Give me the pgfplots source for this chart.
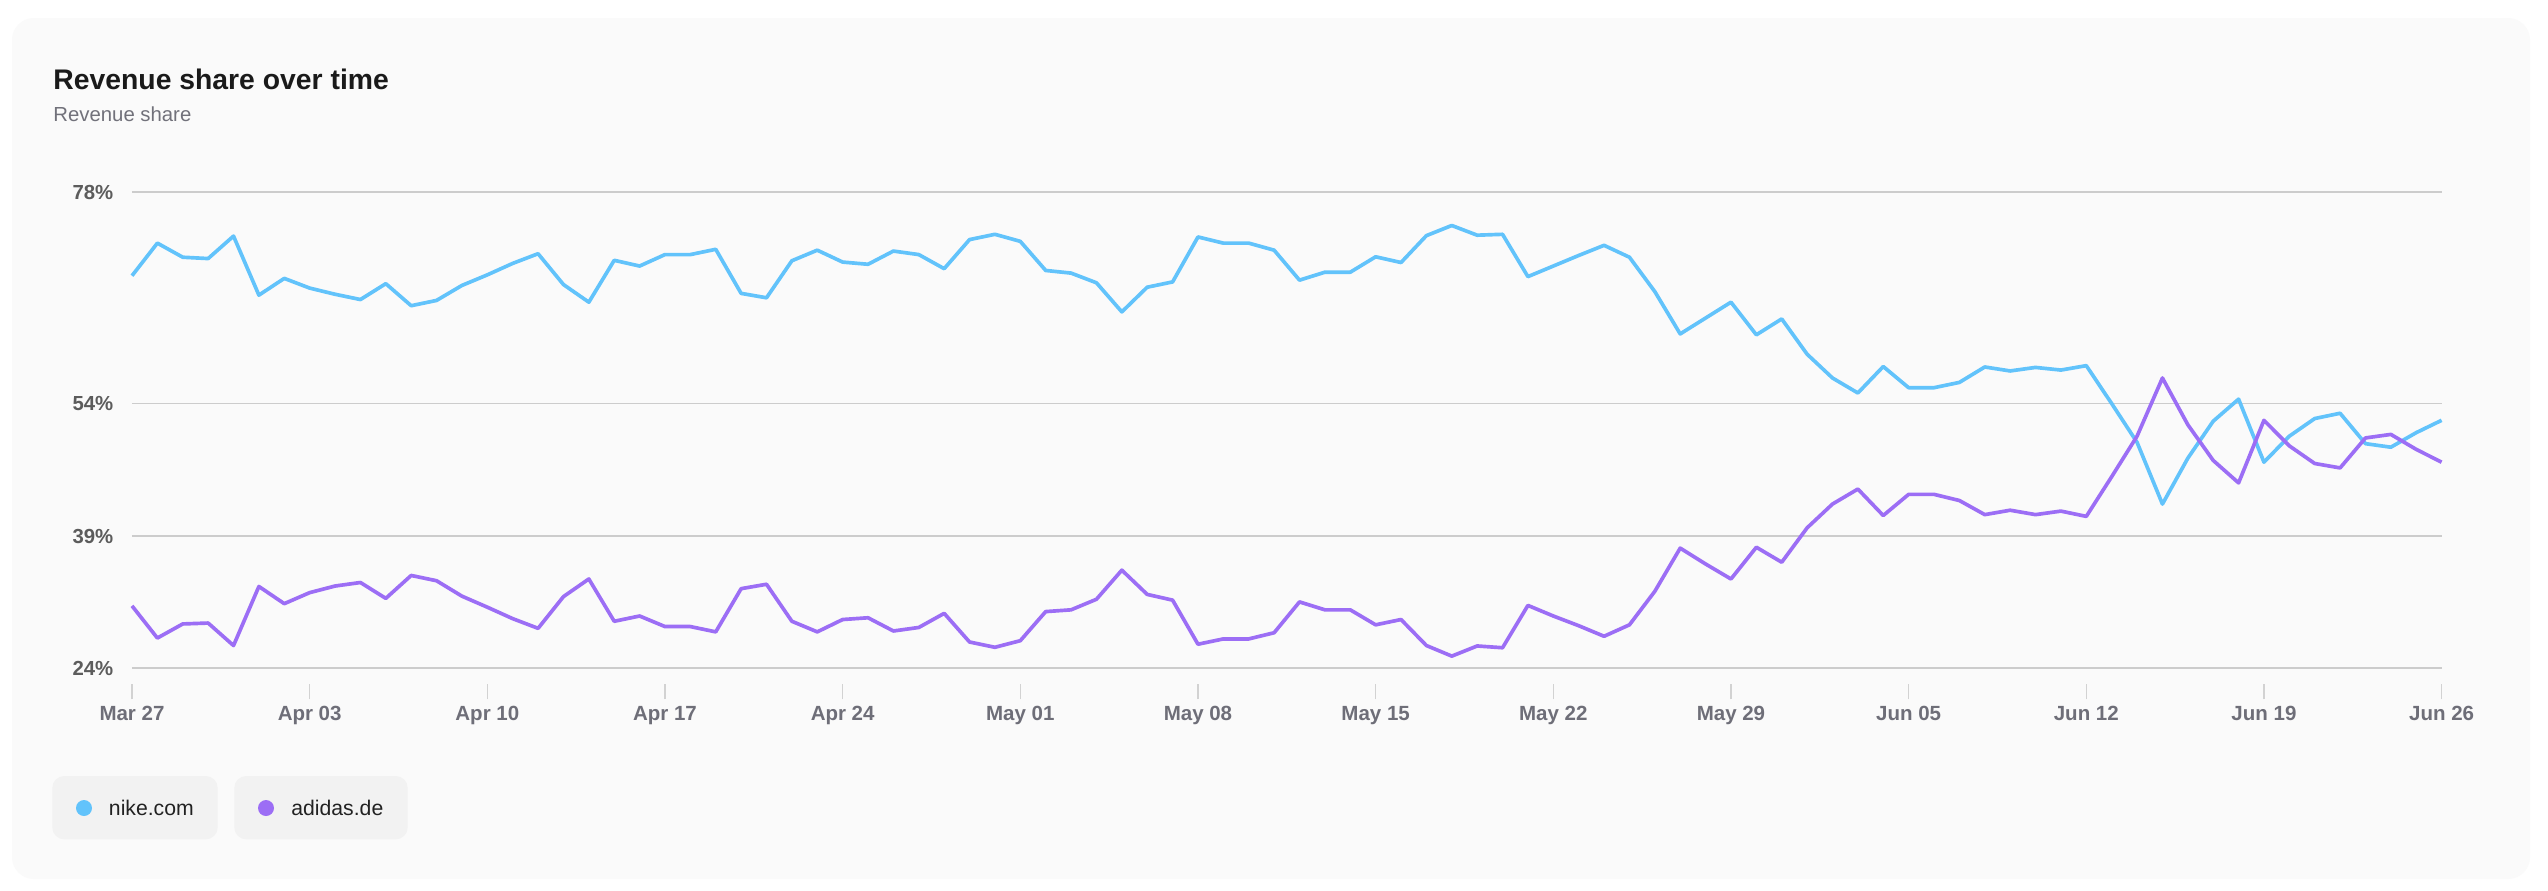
\documentclass[border=0pt]{standalone}
\usepackage{fontspec}
\setmainfont{Liberation Sans}
\usepackage{pgfplots}
\pgfplotsset{compat=1.18}

\definecolor{nike}{HTML}{62C3FB}
\definecolor{adidas}{HTML}{9C6EF5}
\definecolor{card}{HTML}{FAFAFA}
\definecolor{chip}{HTML}{F2F2F2}
\definecolor{gridc}{HTML}{CCCCCC}
\definecolor{tickc}{HTML}{D2D2D2}
\definecolor{xlab}{HTML}{6E6E78}
\definecolor{ylab}{HTML}{5C5C5C}
\definecolor{titlec}{HTML}{1A1A1A}
\definecolor{subc}{HTML}{71717A}
\definecolor{legtext}{HTML}{222222}

% day index (0 = Mar 27) and share in percent
\pgfplotstableread{
d share
0 68.5
1 72.2
2 70.6
3 70.45
4 73.0
5 66.3
6 68.2
7 67.1
8 66.4
9 65.8
10 67.6
11 65.1
12 65.7
13 67.4
14 68.6
15 69.9
16 71.0
17 67.5
18 65.5
19 70.25
20 69.6
21 70.9
22 70.9
23 71.5
24 66.5
25 66.0
26 70.2
27 71.4
28 70.05
29 69.8
30 71.3
31 70.9
32 69.3
33 72.6
34 73.2
35 72.4
36 69.1
37 68.8
38 67.7
39 64.4
40 67.2
41 67.8
42 72.9
43 72.2
44 72.2
45 71.4
46 68.0
47 68.9
48 68.9
49 70.65
50 70.0
51 73.05
52 74.2
53 73.1
54 73.2
55 68.4
56 69.6
57 70.8
58 71.95
59 70.6
60 66.7
61 61.9
62 63.7
63 65.5
64 61.8
65 63.6
66 59.6
67 56.9
68 55.2
69 58.2
70 55.8
71 55.8
72 56.4
73 58.15
74 57.7
75 58.1
76 57.8
77 58.3
78 54.0
79 49.6
80 42.6
81 47.8
82 52.0
83 54.5
84 47.35
85 50.3
86 52.3
87 52.9
88 49.45
89 49.05
90 50.7
91 52.1
}\nike

\pgfplotstableread{
d share
0 31.05
1 27.4
2 29.0
3 29.1
4 26.55
5 33.25
6 31.3
7 32.55
8 33.3
9 33.7
10 31.9
11 34.5
12 33.9
13 32.15
14 30.9
15 29.6
16 28.5
17 32.1
18 34.1
19 29.3
20 29.9
21 28.7
22 28.7
23 28.1
24 33.0
25 33.5
26 29.3
27 28.1
28 29.5
29 29.7
30 28.2
31 28.6
32 30.2
33 26.95
34 26.35
35 27.1
36 30.4
37 30.6
38 31.8
39 35.1
40 32.35
41 31.7
42 26.7
43 27.3
44 27.3
45 28.0
46 31.5
47 30.6
48 30.6
49 28.9
50 29.5
51 26.55
52 25.35
53 26.5
54 26.3
55 31.1
56 29.9
57 28.8
58 27.6
59 28.9
60 32.7
61 37.6
62 35.8
63 34.1
64 37.7
65 36.0
66 39.9
67 42.6
68 44.3
69 41.3
70 43.7
71 43.7
72 43.0
73 41.4
74 41.9
75 41.4
76 41.8
77 41.2
78 45.7
79 50.3
80 56.9
81 51.6
82 47.55
83 45.0
84 52.1
85 49.2
86 47.2
87 46.7
88 50.1
89 50.5
90 48.8
91 47.35
}\adidas

\begin{document}
\begin{tikzpicture}
% card, in pixel units of the reference
\begin{scope}[x=0.3pt,y=-0.3pt]
  \fill[white] (0,0) rectangle (2548,890);
  \fill[card, rounded corners=6.6pt] (12,18) rectangle (2530,879);
\end{scope}

\begin{axis}[
  at={(39.6pt,-205.29pt)}, anchor=south west,
  scale only axis, width=692.9pt, height=147.7pt,
  xmin=0, xmax=91, ymin=22.15, ymax=78,
  axis line style={draw=none},
  xtick={0,7,...,91},
  xticklabels={Mar 27,Apr 03,Apr 10,Apr 17,Apr 24,May 01,May 08,May 15,May 22,May 29,Jun 05,Jun 12,Jun 19,Jun 26},
  ytick={24,39,54,78},
  yticklabels={24\%,39\%,54\%,78\%},
  xtick pos=bottom, ytick pos=left,
  tick align=outside,
  major tick length=4.5pt,
  xtick style={draw=tickc, line width=0.4pt},
  ytick style={draw=none},
  ymajorgrids,
  grid style={gridc, line width=0.45pt},
  xticklabel style={font=\bfseries\fontsize{6.15pt}{7pt}\selectfont, text=xlab, anchor=base, inner sep=0pt, yshift=-6.4pt},
  yticklabel style={font=\bfseries\fontsize{6.1pt}{7pt}\selectfont, text=ylab, anchor=base east, inner sep=0pt, xshift=-0.9pt, yshift=-2.2pt},
  clip=false,
]
\addplot[nike, line width=1.1pt, line join=round] table[x=d, y=share] {\nike};
\addplot[adidas, line width=1.1pt, line join=round] table[x=d, y=share] {\adidas};
\end{axis}

\begin{scope}[x=0.3pt,y=-0.3pt]
  \node[anchor=base west, inner sep=0pt, text=titlec, font=\bfseries\fontsize{8.5pt}{10pt}\selectfont] at (52.8,89.3) {Revenue share over time};
  \node[anchor=base west, inner sep=0pt, text=subc, font=\fontsize{6.1pt}{7pt}\selectfont] at (52.8,121.7) {Revenue share};
  % legend chips
  \fill[chip, rounded corners=3.6pt] (52.3,776) rectangle (217.7,839.3);
  \fill[nike] (84,808) circle[radius=2.4pt];
  \node[anchor=base west, inner sep=0pt, text=legtext, font=\fontsize{6.36pt}{7pt}\selectfont] at (108.3,815.3) {nike.com};
  \fill[chip, rounded corners=3.6pt] (234.3,776) rectangle (407.7,839.3);
  \fill[adidas] (266,808) circle[radius=2.4pt];
  \node[anchor=base west, inner sep=0pt, text=legtext, font=\fontsize{6.36pt}{7pt}\selectfont] at (290.7,815.3) {adidas.de};
\end{scope}
\end{tikzpicture}
\end{document}
